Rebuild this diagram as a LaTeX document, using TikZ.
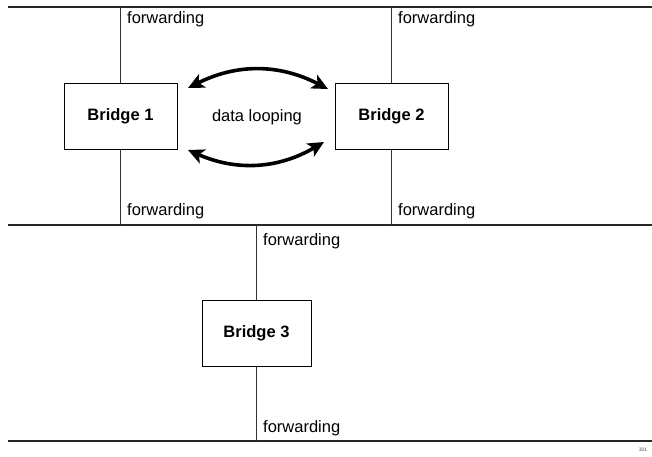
\documentclass[tikz,border=0pt]{standalone}
\usepackage{fontspec}
\setmainfont{Liberation Sans}
\usetikzlibrary{arrows.meta}
\begin{document}
\begin{tikzpicture}[x=1pt,y=-1pt,
  segline/.style={line width=1.3pt,draw=black!85},
  drop/.style={line width=0.8pt,draw=black!80},
  bridge/.style={draw,line width=1pt,fill=white,minimum width=113pt,minimum height=66pt,inner sep=0pt,font=\fontsize{16.5}{18}\selectfont\bfseries},
  port/.style={anchor=west,inner sep=0pt,font=\fontsize{16.5}{18}\selectfont},
  loop/.style={line width=3.6pt,{Stealth[length=16pt,width=15pt,inset=4pt]}-{Stealth[length=16pt,width=15pt,inset=4pt]}}]
\useasboundingbox (0,0) rectangle (652,456);

% LAN segments
\coordinate (t1) at (8,7);    \coordinate (t2) at (652,7);
\coordinate (m1) at (8,225);  \coordinate (m2) at (652,225);
\coordinate (b1) at (8,441);  \coordinate (b2) at (652,441);
\draw[segline] (t1) -- (t2);
\draw[segline] (m1) -- (m2);
\draw[segline] (b1) -- (b2);

% bridges
\node[bridge] (br1) at (120.5,116) {Bridge 1};
\node[bridge] (br2) at (391.5,116) {Bridge 2};
\node[bridge,minimum width=109pt] (br3) at (256.5,333) {Bridge 3};

% attachment points on the segments
\coordinate (a1t) at (120.5,7);   \coordinate (a1b) at (120.5,225);
\coordinate (a2t) at (391.5,7);   \coordinate (a2b) at (391.5,225);
\coordinate (a3t) at (256.5,225); \coordinate (a3b) at (256.5,441);
\draw[drop] (a1t) -- (br1.north);  \draw[drop] (br1.south) -- (a1b);
\draw[drop] (a2t) -- (br2.north);  \draw[drop] (br2.south) -- (a2b);
\draw[drop] (a3t) -- (br3.north);  \draw[drop] (br3.south) -- (a3b);

% port states
\node[port] (p1t) at (127,19) {forwarding};
\node[port] (p1b) at (127,211) {forwarding};
\node[port] (p2t) at (398,19) {forwarding};
\node[port] (p2b) at (398,211) {forwarding};
\node[port] (p3t) at (263,241) {forwarding};
\node[port] (p3b) at (263,428) {forwarding};

% looping traffic between bridge 1 and bridge 2
\node[inner sep=0pt,font=\fontsize{16.5}{18}\selectfont] (loopl) at (257,117) {data looping};
\coordinate (u1) at (188,88);  \coordinate (u2) at (328,89);
\coordinate (l1) at (188,150); \coordinate (l2) at (324,142);
\draw[loop] (u1) to[bend left=27] (u2);
\draw[loop] (l1) to[bend right=27] (l2);

% figure number
\node[inner sep=0pt,font=\fontsize{5}{6}\selectfont,text=black!70] (fig) at (643,450) {301};
\end{tikzpicture}
\end{document}
